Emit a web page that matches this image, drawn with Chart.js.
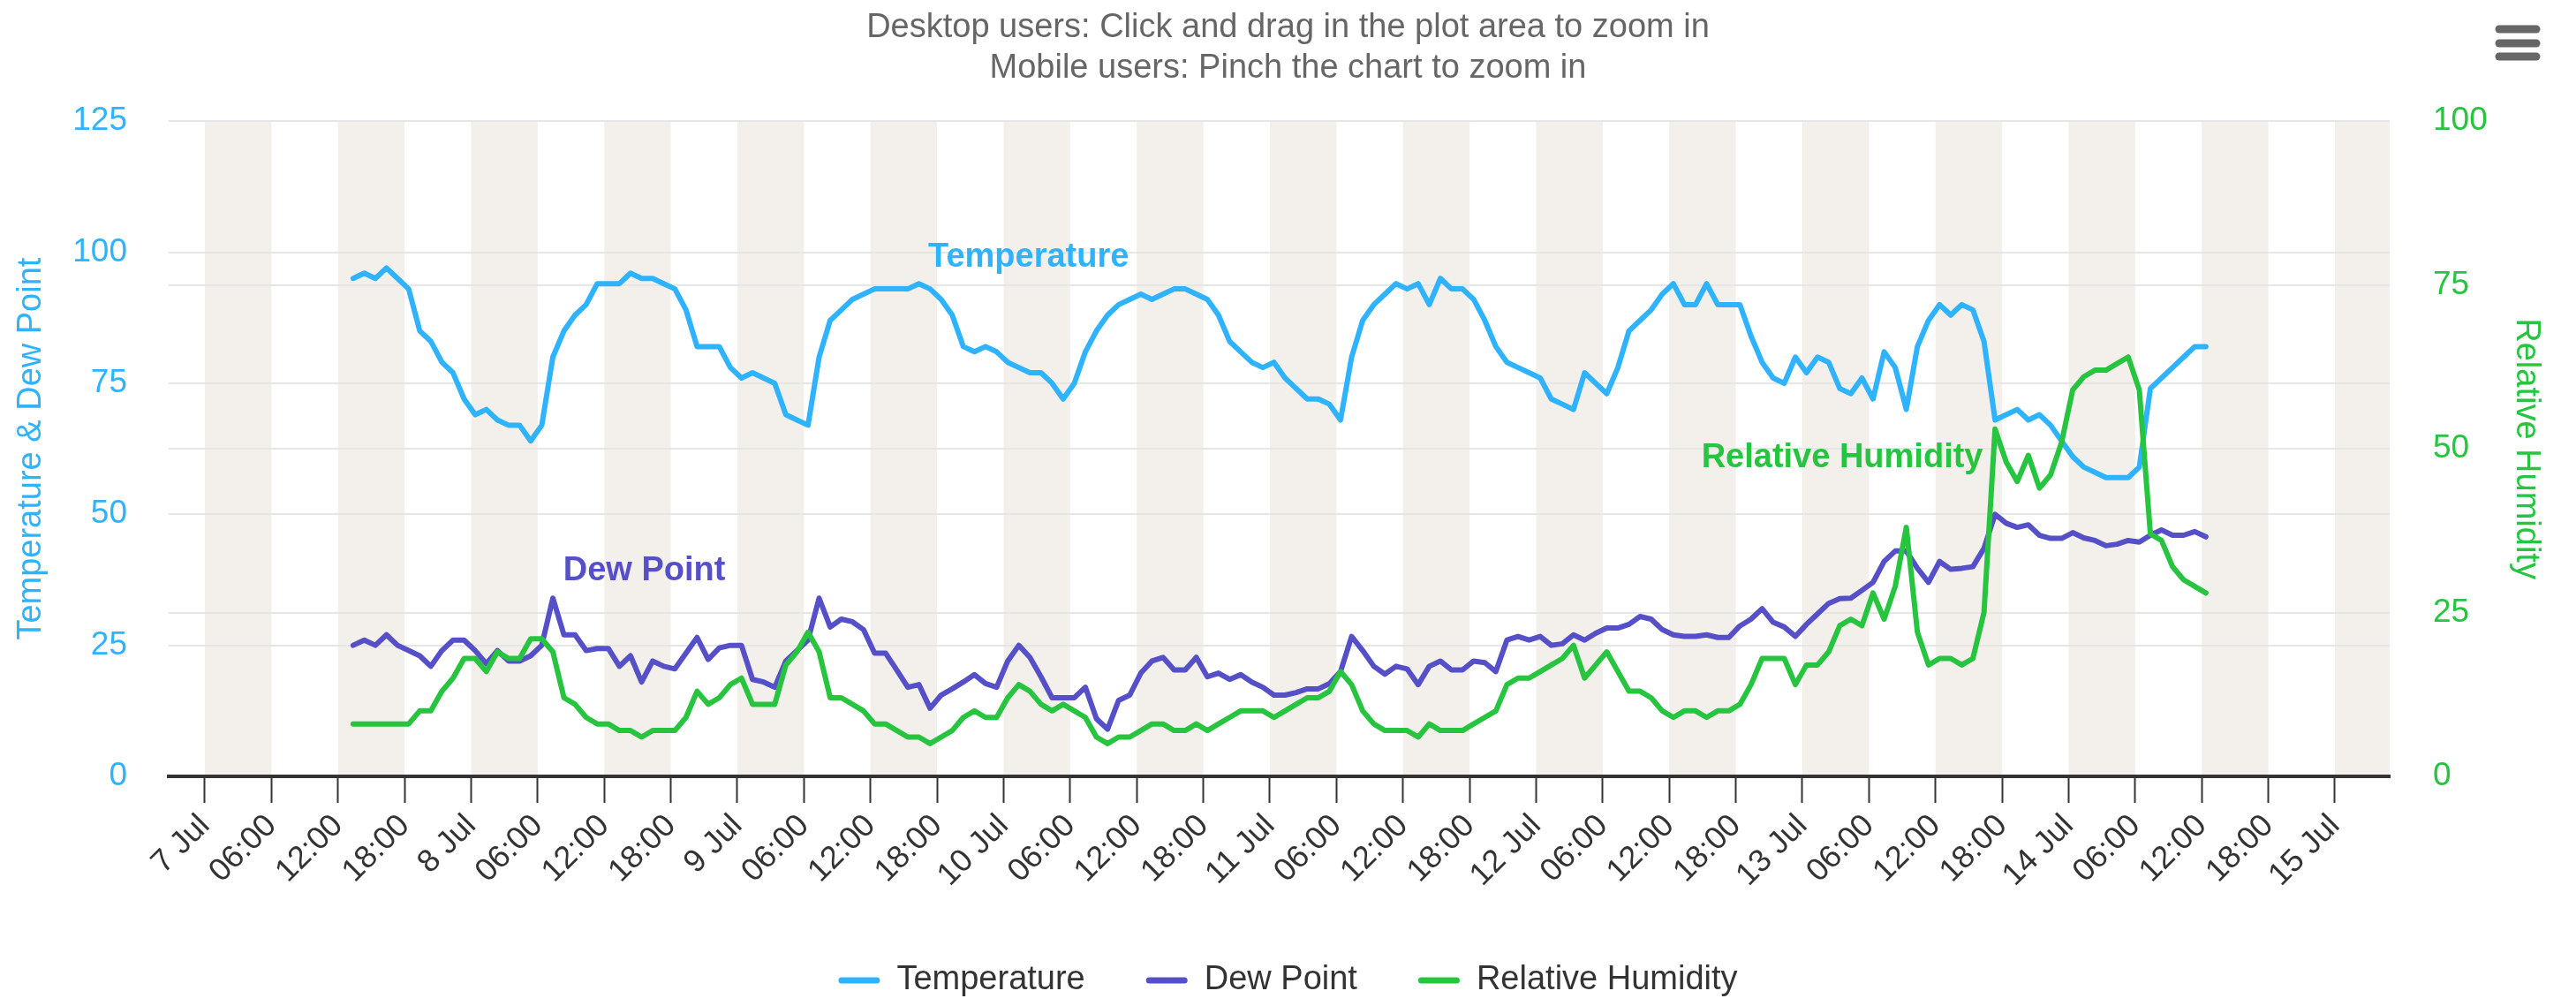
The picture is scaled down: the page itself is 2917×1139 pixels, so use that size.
<!DOCTYPE html>
<html>
<head>
<meta charset="utf-8">
<script src="https://cdn.jsdelivr.net/npm/chart.js@4.4.1/dist/chart.umd.min.js"></script>
<style>
html, body { margin: 0; padding: 0; background: #ffffff; }
#wrap { width: 2917px; height: 1139px; }
</style>
</head>
<body>
<div id="wrap"><canvas id="c" width="2917" height="1139"></canvas></div>
<script>
// ---------- DATA ----------
const titleLines = ['Desktop users: Click and drag in the plot area to zoom in', 'Mobile users: Pinch the chart to zoom in'];
const seriesNames = ['Temperature', 'Dew Point', 'Relative Humidity'];
const leftAxisTitle = 'Temperature & Dew Point';
const rightAxisTitle = 'Relative Humidity';

// hours after 7 Jul 00:00 of the first hourly reading
const firstReadingHour = 13.37;
const readingStepHours = 1;

const temperature = [
  95, 96, 95, 97, 95, 93, 85, 83, 79, 77, 72, 69, 70, 68, 67, 67, 64, 67, 80, 85,
  88, 90, 94, 94, 94, 96, 95, 95, 94, 93, 89, 82, 82, 82, 78, 76, 77, 76, 75, 69,
  68, 67, 80, 87, 89, 91, 92, 93, 93, 93, 93, 94, 93, 91, 88, 82, 81, 82, 81, 79,
  78, 77, 77, 75, 72, 75, 81, 85, 88, 90, 91, 92, 91, 92, 93, 93, 92, 91, 88, 83,
  81, 79, 78, 79, 76, 74, 72, 72, 71, 68, 80, 87, 90, 92, 94, 93, 94, 90, 95, 93,
  93, 91, 87, 82, 79, 78, 77, 76, 72, 71, 70, 77, 75, 73, 78, 85, 87, 89, 92, 94,
  90, 90, 94, 90, 90, 90, 84, 79, 76, 75, 80, 77, 80, 79, 74, 73, 76, 72, 81, 78,
  70, 82, 87, 90, 88, 90, 89, 83, 68, 69, 70, 68, 69, 67, 64, 61, 59, 58, 57, 57,
  57, 59, 74, 76, 78, 80, 82, 82
];
const dewPoint = [
  25, 26, 25, 27, 25, 24, 23, 21, 24, 26, 26, 24, 21.5, 24, 22, 22, 23, 25, 34, 27,
  27, 24, 24.4, 24.4, 21, 23, 18, 22, 21, 20.5, 23.5, 26.5, 22.3, 24.5, 25, 25, 18.5, 18, 17, 22,
  24, 26, 34, 28.5, 30, 29.5, 28, 23.5, 23.5, 20.3, 17, 17.5, 13, 15.5, 16.7, 18, 19.4, 17.7, 17, 22,
  25, 22.7, 19, 15, 15, 15, 17, 11, 9, 14.5, 15.5, 19.7, 22, 22.7, 20.3, 20.3, 22.7, 19, 19.7, 18.5,
  19.4, 18, 17, 15.5, 15.5, 16, 16.7, 16.7, 17.7, 20, 26.7, 24, 21, 19.5, 21, 20.5, 17.5, 21, 22, 20.3,
  20.3, 22, 21.7, 20, 26, 26.7, 26, 26.7, 25, 25.3, 27, 26, 27.3, 28.3, 28.3, 29, 30.5, 30, 28, 27,
  26.7, 26.7, 27, 26.5, 26.5, 28.7, 30, 32, 29.4, 28.5, 26.7, 29, 31, 33, 33.9, 34, 35.5, 37, 41, 43,
  43, 39.7, 37, 41, 39.5, 39.7, 40, 43.5, 50, 48.3, 47.5, 48, 46, 45.4, 45.4, 46.5, 45.5, 45, 44, 44.3,
  45, 44.7, 46, 47, 46, 46, 46.7, 45.7
];
const humidity = [
  8, 8, 8, 8, 8, 8, 10, 10, 13, 15, 18, 18, 16, 19, 18, 18, 21, 21, 19, 12,
  11, 9, 8, 8, 7, 7, 6, 7, 7, 7, 9, 13, 11, 12, 14, 15, 11, 11, 11, 17,
  19, 22, 19, 12, 12, 11, 10, 8, 8, 7, 6, 6, 5, 6, 7, 9, 10, 9, 9, 12,
  14, 13, 11, 10, 11, 10, 9, 6, 5, 6, 6, 7, 8, 8, 7, 7, 8, 7, 8, 9,
  10, 10, 10, 9, 10, 11, 12, 12, 13, 16, 14, 10, 8, 7, 7, 7, 6, 8, 7, 7,
  7, 8, 9, 10, 14, 15, 15, 16, 17, 18, 20, 15, 17, 19, 16, 13, 13, 12, 10, 9,
  10, 10, 9, 10, 10, 11, 14, 18, 18, 18, 14, 17, 17, 19, 23, 24, 23, 28, 24, 29,
  38, 22, 17, 18, 18, 17, 18, 25, 53, 48, 45, 49, 44, 46, 51, 59, 61, 62, 62, 63,
  64, 59, 37, 36, 32, 30, 29, 28
];

// x-axis ticks (hours after 7 Jul 00:00) and their labels
const tickHours = [0, 6, 12, 18, 24, 30, 36, 42, 48, 54, 60, 66, 72, 78, 84, 90, 96, 102, 108, 114,
  120, 126, 132, 138, 144, 150, 156, 162, 168, 174, 180, 186, 192];
const tickLabels = ['7 Jul', '06:00', '12:00', '18:00', '8 Jul', '06:00', '12:00', '18:00',
  '9 Jul', '06:00', '12:00', '18:00', '10 Jul', '06:00', '12:00', '18:00',
  '11 Jul', '06:00', '12:00', '18:00', '12 Jul', '06:00', '12:00', '18:00',
  '13 Jul', '06:00', '12:00', '18:00', '14 Jul', '06:00', '12:00', '18:00', '15 Jul'];
const xMinHour = -3.26;
const xMaxHour = 196.94;
const leftTicks = [0, 25, 50, 75, 100, 125];
const rightTicks = [0, 25, 50, 75, 100];

// ---------- STYLE ----------
const FONT = "'Liberation Sans', Arial, Helvetica, sans-serif";
const C_TEMP = '#2fb3ff';
const C_DEW = '#5650c8';
const C_HUM = '#27c43f';
const C_BAND = '#f3f0eb';
const C_GRID = '#e6e6e6';

// alternate 6-hour shaded bands, starting at every other tick
const bandStartHours = tickHours.filter((h, i) => i % 2 === 0);
const bandLengthHours = 6;

// in-plot series labels, anchored in data units (hour, value, axis)
const seriesLabelAnchors = [
  { text: seriesNames[0], hour: 65.2, value: 97.3, axis: 'y', color: C_TEMP },
  { text: seriesNames[1], hour: 32.3, value: 37.4, axis: 'y', color: C_DEW },
  { text: seriesNames[2], hour: 134.9, value: 47.2, axis: 'y1', color: C_HUM }
];

const times = temperature.map((_, i) => firstReadingHour + i * readingStepHours);
const toPoints = (arr) => arr.map((v, i) => ({ x: times[i], y: v }));

const bandPlugin = {
  id: 'bands',
  beforeDraw(chart) {
    const { ctx, chartArea: a, scales } = chart;
    const xs = scales.x;
    ctx.save();
    ctx.beginPath();
    ctx.rect(a.left, a.top, a.right - a.left, a.bottom - a.top);
    ctx.clip();
    ctx.fillStyle = C_BAND;
    bandStartHours.forEach(h => {
      const x0 = xs.getPixelForValue(h);
      const x1 = xs.getPixelForValue(h + bandLengthHours);
      ctx.fillRect(x0, a.top, x1 - x0, a.bottom - a.top);
    });
    ctx.restore();
  }
};

const seriesLabelPlugin = {
  id: 'seriesLabels',
  afterDatasetsDraw(chart) {
    const { ctx, scales } = chart;
    ctx.save();
    ctx.font = 'bold 38px ' + FONT;
    ctx.textAlign = 'left';
    ctx.textBaseline = 'alphabetic';
    seriesLabelAnchors.forEach(l => {
      ctx.fillStyle = l.color;
      ctx.fillText(l.text, scales.x.getPixelForValue(l.hour), scales[l.axis].getPixelForValue(l.value));
    });
    ctx.restore();
  }
};

const menuPlugin = {
  id: 'menuIcon',
  afterDraw(chart) {
    const ctx = chart.ctx;
    ctx.save();
    ctx.strokeStyle = '#666666';
    ctx.lineWidth = 9;
    ctx.lineCap = 'round';
    [33, 49, 64].forEach(y => {
      ctx.beginPath();
      ctx.moveTo(2830, y);
      ctx.lineTo(2872, y);
      ctx.stroke();
    });
    ctx.restore();
  }
};

const lineStyle = (color) => ({
  borderColor: color,
  backgroundColor: color,
  borderWidth: 6,
  pointRadius: 0,
  pointHoverRadius: 0,
  tension: 0,
  fill: false,
  borderJoinStyle: 'round',
  borderCapStyle: 'round'
});

new Chart(document.getElementById('c'), {
  type: 'line',
  data: {
    datasets: [
      Object.assign({ label: seriesNames[0], data: toPoints(temperature), yAxisID: 'y', order: 3 }, lineStyle(C_TEMP)),
      Object.assign({ label: seriesNames[1], data: toPoints(dewPoint), yAxisID: 'y', order: 2 }, lineStyle(C_DEW)),
      Object.assign({ label: seriesNames[2], data: toPoints(humidity), yAxisID: 'y1', order: 1 }, lineStyle(C_HUM))
    ]
  },
  options: {
    responsive: false,
    devicePixelRatio: 1,
    animation: false,
    events: [],
    layout: { padding: 0 },
    plugins: {
      tooltip: { enabled: false },
      title: {
        display: true,
        text: titleLines,
        color: '#666666',
        font: { family: FONT, size: 38, weight: 'normal', lineHeight: 1.2 },
        padding: { top: 9, bottom: 37 }
      },
      legend: {
        position: 'bottom',
        align: 'center',
        labels: {
          font: { family: FONT, size: 38 },
          color: '#333333',
          boxWidth: 47,
          boxHeight: 7,
          padding: 69,
          useBorderRadius: true,
          borderRadius: 3.5,
          generateLabels: (chart) => chart.data.datasets.map((ds, i) => ({
            text: ds.label,
            fillStyle: ds.borderColor,
            strokeStyle: ds.borderColor,
            lineWidth: 0,
            borderRadius: 3.5,
            fontColor: '#333333',
            hidden: !chart.isDatasetVisible(i),
            datasetIndex: i
          }))
        }
      }
    },
    scales: {
      x: {
        type: 'linear',
        min: xMinHour,
        max: xMaxHour,
        afterBuildTicks: (s) => { s.ticks = tickHours.map(v => ({ value: v })); },
        afterFit: (s) => { s.height = 143; },
        ticks: {
          autoSkip: false,
          minRotation: 45,
          maxRotation: 45,
          padding: 5,
          color: '#333333',
          font: { family: FONT, size: 36 },
          callback: (v, i) => tickLabels[i]
        },
        grid: { drawOnChartArea: false, drawTicks: true, tickLength: 30, tickColor: '#333333', tickWidth: 2 },
        border: { display: true, color: '#333333', width: 4 }
      },
      y: {
        position: 'left',
        min: 0,
        max: 125,
        afterBuildTicks: (s) => { s.ticks = leftTicks.map(v => ({ value: v })); },
        afterFit: (s) => { s.width = 191; },
        ticks: { color: C_TEMP, padding: 47, font: { family: FONT, size: 37 } },
        grid: { color: C_GRID, lineWidth: 2, drawTicks: false },
        border: { display: false },
        title: {
          display: true,
          text: leftAxisTitle,
          color: C_TEMP,
          font: { family: FONT, size: 38, lineHeight: 1.2 },
          padding: { top: 13, bottom: 0 }
        }
      },
      y1: {
        position: 'right',
        min: 0,
        max: 100,
        afterBuildTicks: (s) => { s.ticks = rightTicks.map(v => ({ value: v })); },
        afterFit: (s) => { s.width = 211; },
        ticks: { color: C_HUM, padding: 49, font: { family: FONT, size: 37 } },
        grid: { color: C_GRID, lineWidth: 2, drawTicks: false },
        border: { display: false },
        title: {
          display: true,
          text: rightAxisTitle,
          color: C_HUM,
          font: { family: FONT, size: 38, lineHeight: 1.2 },
          padding: { top: 34, bottom: 0 }
        }
      }
    }
  },
  plugins: [bandPlugin, seriesLabelPlugin, menuPlugin]
});
</script>
</body>
</html>
